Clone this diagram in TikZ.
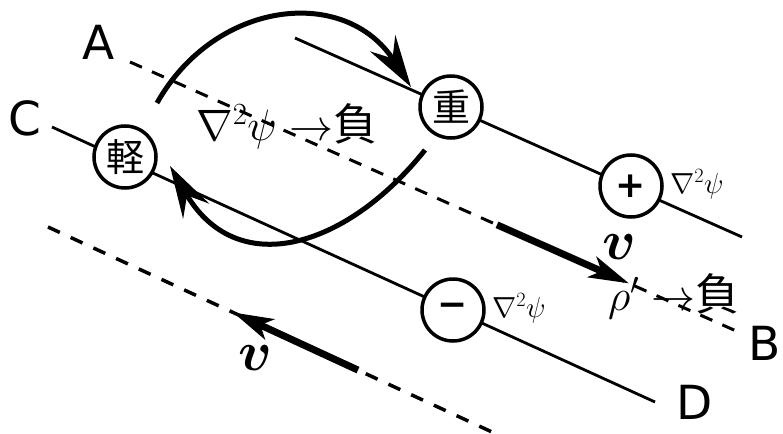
\RequirePackage{fix-cm}
\documentclass[tikz,border=0pt]{standalone}
\usepackage{bm}
\usepackage{fontspec}
\setsansfont{DejaVu Sans}
\newfontfamily\cjk{Noto Sans CJK JP}
\usetikzlibrary{arrows.meta}

\begin{document}
\begin{tikzpicture}[x=1pt,y=-1pt,
  every node/.style={inner sep=0pt},
  ring/.style={circle, draw, line width=3.5pt, fill=white, minimum size=62pt,
    font=\cjk\fontsize{38}{38}\selectfont},
  signring/.style={ring, font=\sffamily\bfseries\fontsize{36}{36}\selectfont},
  letter/.style={font=\sffamily\fontsize{47}{47}\selectfont},
  fieldline/.style={line width=2.8pt},
  flowA/.style={line width=3pt, dash pattern=on 13pt off 11pt},
  flowB/.style={line width=3.5pt, dash pattern=on 13pt off 12pt},
  swirl/.style={line width=5pt, -{Stealth[length=52pt,width=30pt,inset=18pt]}},
  vel/.style={line width=7pt, -{Stealth[length=40pt,width=22pt,inset=10pt]}},
  bigtext/.style={font=\fontsize{44}{44}\selectfont, anchor=base west},
  smalltext/.style={font=\fontsize{29}{29}\selectfont, anchor=base west},
  veltext/.style={font=\fontsize{56}{56}\selectfont},
]
\useasboundingbox (0,0) rectangle (783,433);

% end points of the four parallel lines
\coordinate (U0) at (295,38);  \coordinate (U1) at (742,237);
\coordinate (A0) at (130,62);  \coordinate (B0) at (743,334);
\coordinate (C0) at (52,127);  \coordinate (D0) at (655,402);
\coordinate (L0) at (48,227);  \coordinate (L1) at (492,432);

\draw[fieldline] (U0) -- (U1);
\draw[fieldline] (C0) -- (D0);
\draw[flowA] (A0) -- (B0);
\draw[flowB] (L0) -- (L1);

% line labels
\node[letter] (lA) at (98.5,42) {A};
\node[letter] (lB) at (765,343) {B};
\node[letter] (lC) at (25,118.5) {C};
\node[letter] (lD) at (695,402) {D};

% masses and charges on the lines
\node[ring] (heavy) at (451,107) {重};
\node[ring] (light) at (125,157) {軽};
\node[signring] (plus) at (631,186) {+};
\node[signring] (minus) at (453,310) {−};

% circulation
\coordinate (s1) at (157,103); \coordinate (e1) at (411,87);
\coordinate (s2) at (425,150); \coordinate (e2) at (170,166);
\draw[swirl] (s1) .. controls (215,0) and (345,-15) .. (e1);
\draw[swirl] (s2) .. controls (345,250) and (236,280) .. (e2);

% flow velocity
\coordinate (v1s) at (497,224.8); \coordinate (v1e) at (629,283.4);
\coordinate (v2s) at (358,370.1); \coordinate (v2e) at (233,312.4);
\draw[vel] (v1s) -- (v1e);
\draw[vel] (v2s) -- (v2e);
\node[veltext] (vup) at (619,247) {$\bm{v}$};
\node[veltext] (vdown) at (255,358) {$\bm{v}$};

% texts
\node[bigtext] (t1) at (196,140) {$\nabla^2\psi\rightarrow${\cjk 負}};
\node[bigtext] (t2) at (608,310) {$\rho'\rightarrow${\cjk 負}};
\node[smalltext] (t3) at (670,193) {$\nabla^2\psi$};
\node[smalltext] (t4) at (492,317) {$\nabla^2\psi$};
\end{tikzpicture}
\end{document}
